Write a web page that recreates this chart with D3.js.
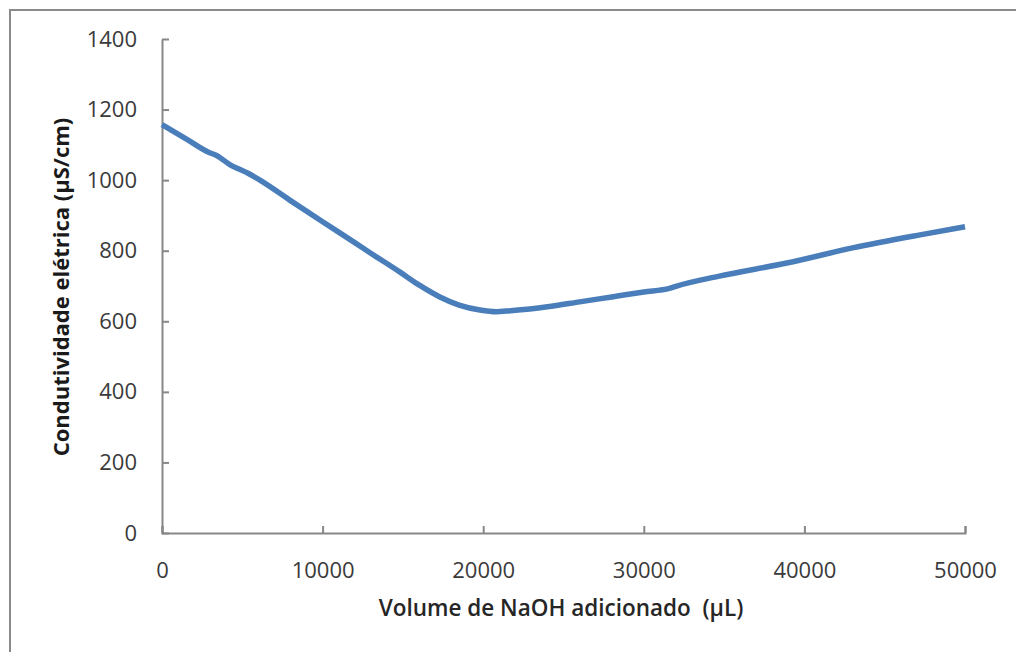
<!DOCTYPE html>
<html>
<head>
<meta charset="utf-8">
<script src="https://d3js.org/d3.v7.min.js"></script>
<style>
    body { margin: 0; background: #fff; }
    svg { display: block; font-family: "Open Sans", Lato, sans-serif; }
    .tick text { fill: #3a3a3a; font-size: 22px; }
</style>
</head>
<body>
<svg width="1016" height="652"></svg>
<script>
// volume of NaOH added (µL) and measured conductivity (µS/cm)
var volume = [0, 1500, 3000, 3300, 4200, 5500, 6100, 8000, 10000, 12000, 13000,
    14800, 16000, 17300, 18500, 19800, 20800, 21700, 22900, 24000, 26000, 28000,
    30000, 31600, 32000, 34700, 38900, 43000, 47200, 50000];
var conductivity = [1157, 1117, 1077, 1072, 1045, 1016, 1000, 942, 882, 823, 793,
    740, 703, 669, 646, 632, 627, 630, 635, 641, 655, 669,
    683, 693, 699, 728, 765, 808, 845, 868];

var xTicks = [0, 10000, 20000, 30000, 40000, 50000];
var yTicks = [0, 200, 400, 600, 800, 1000, 1200, 1400];

var xTitle = "Volume de NaOH adicionado\u00a0 (\u00b5L)";
var yTitle = "Condutividade el\u00e9trica (\u00b5S/cm)";

var svg = d3.select("svg");

// chart frame (only top and left edges fall inside the picture)
svg.append("rect")
    .attr("x", 10)
    .attr("y", 10)
    .attr("width", 1040)
    .attr("height", 700)
    .attr("fill", "none")
    .attr("stroke", "#8a8a8a")
    .attr("stroke-width", 2);

var plotLeft = 162, plotRight = 965, plotTop = 39, plotBottom = 533;

var x = d3.scaleLinear()
    .domain([0, 50000])
    .range([plotLeft, plotRight]);

var y = d3.scaleLinear()
    .domain([0, 1400])
    .range([plotBottom, plotTop]);

svg.append("g")
    .attr("transform", "translate(0," + plotBottom + ")")
    .call(d3.axisBottom(x)
        .tickValues(xTicks)
        .tickSizeInner(-7)
        .tickSizeOuter(-7)
        .tickPadding(29)
        .tickFormat(d3.format("d")));

svg.append("g")
    .attr("transform", "translate(" + plotLeft + ",0)")
    .call(d3.axisLeft(y)
        .tickValues(yTicks)
        .tickSizeInner(-7)
        .tickSizeOuter(0)
        .tickPadding(25)
        .tickFormat(d3.format("d")));

svg.selectAll("g")
    .attr("font-family", null)
    .attr("font-size", null);

svg.selectAll(".domain, .tick line")
    .attr("stroke", "#878787")
    .attr("stroke-width", 2);

var line = d3.line()
    .x(function (d, i) { return x(volume[i]); })
    .y(function (d) { return y(d); })
    .curve(d3.curveMonotoneX);

svg.append("path")
    .datum(conductivity)
    .attr("d", line)
    .attr("fill", "none")
    .attr("stroke", "#4a7ebb")
    .attr("stroke-width", 5.5)
    .attr("stroke-linejoin", "round");

svg.append("text")
    .attr("x", 561)
    .attr("y", 616)
    .attr("text-anchor", "middle")
    .attr("font-size", 22.5)
    .attr("font-weight", 600)
    .attr("fill", "#262626")
    .text(xTitle);

svg.append("text")
    .attr("transform", "translate(69,287) rotate(-90)")
    .attr("text-anchor", "middle")
    .attr("font-size", 22)
    .attr("font-weight", "bold")
    .attr("fill", "#1a1a1a")
    .text(yTitle);
</script>
</body>
</html>
